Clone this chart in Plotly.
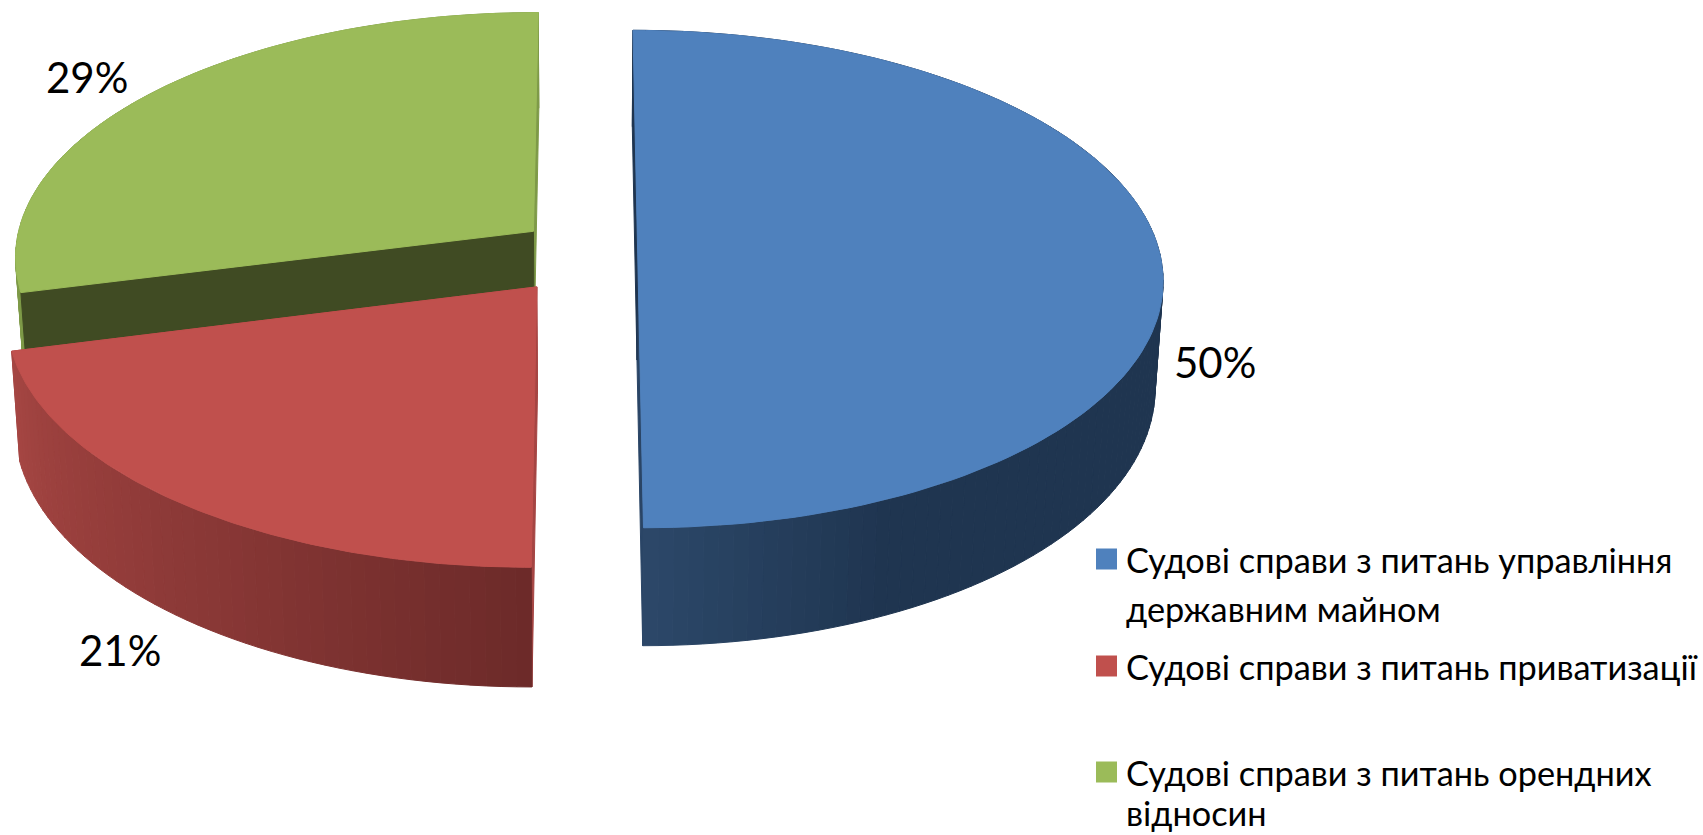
import math
import plotly.graph_objects as go

# ---- data ----
categories = [
    "Судові справи з питань управління державним майном",
    "Судові справи з питань приватизації",
    "Судові справи з питань орендних відносин",
]
legend_lines = [
    ["Судові справи з питань управління", "державним майном"],
    ["Судові справи з питань приватизації"],
    ["Судові справи з питань орендних", "відносин"],
]
shares = [50, 21, 29]
labels = ["50%", "21%", "29%"]
colors = ["#4F81BD", "#C0504D", "#9BBB59"]
offset_x = [0.099, -0.093, -0.1016]
offset_y = [-0.004, -0.136, 0.089]
radius = [1.0, 0.996, 0.995]
inner_wall_a = ["#1F3550", "#A54543", "#404B23"]   # wall at the start angle
inner_wall_b = ["#2A4566", "#A84644", "#7E9A48"]   # wall at the end angle
walls_in_front = [False, False, True]
outer_stops = [
    [(0, "#1F3550"), (155, "#1F3550"), (180, "#2C4869")],
    [(180, "#6C2A29"), (215, "#8A3836"), (256, "#A64643")],
    [(256, "#7E9A48"), (360, "#7E9A48")],
]
label_pos = [(1215, 362), (120, 650), (87, 77)]
legend_x, legend_text_x = 1096, 1125
legend_y = [[559, 608], [666], [772, 812]]
legend_sq = 21
draw_order = [2, 1, 0]

# ---- camera ----
W, H = 1703, 835
R, k, xv, yV, y0, D, m = 522, 0.1007, 586, -2190, 253, 106, 0.986


def proj(X, Y, bottom=False):
    s = 1 / (1 + k * Y)
    x = xv + X * R * s
    y = yV + (y0 - yV) * s
    if bottom:
        x = xv + m * (x - xv)
        y = y + D * s
    return x, y


def hexrgb(c):
    return [int(c[i:i + 2], 16) for i in (1, 3, 5)]


def shade(stops, a):
    for (a0, c0), (a1, c1) in zip(stops, stops[1:]):
        if a <= a1:
            t = (a - a0) / (a1 - a0) if a1 > a0 else 0
            p, q = hexrgb(c0), hexrgb(c1)
            return "rgb(%d,%d,%d)" % tuple(round(u + (v - u) * t) for u, v in zip(p, q))
    return stops[-1][1]


def poly(fig, pts, color):
    fig.add_trace(go.Scatter(
        x=[p[0] for p in pts] + [pts[0][0]],
        y=[p[1] for p in pts] + [pts[0][1]],
        mode="lines", fill="toself", fillcolor=color,
        line=dict(color=color, width=1), hoverinfo="skip", showlegend=False,
    ))


total = sum(shares)
starts = [sum(shares[:i]) / total * 360 for i in range(len(shares))]
fig = go.Figure()

for i in draw_order:
    a0, a1 = starts[i], starts[i] + shares[i] / total * 360
    ox, oy = offset_x[i], offset_y[i]

    def rim(a, bottom=False):
        r = math.radians(a)
        return proj(ox + radius[i] * math.sin(r), oy + radius[i] * math.cos(r), bottom)

    apex_t, apex_b = proj(ox, oy), proj(ox, oy, True)

    def walls():
        poly(fig, [apex_t, rim(a1), rim(a1, True), apex_b], inner_wall_b[i])
        poly(fig, [apex_t, rim(a0), rim(a0, True), apex_b], inner_wall_a[i])

    if not walls_in_front[i]:
        walls()
    # outer curved wall, drawn as thin strips to carry the shading
    n = max(int((a1 - a0) / 1.5), 2)
    for j in range(n):
        b0 = a0 + (a1 - a0) * j / n
        b1 = a0 + (a1 - a0) * (j + 1) / n
        poly(fig, [rim(b0), rim(b1), rim(b1, True), rim(b0, True)],
             shade(outer_stops[i], (b0 + b1) / 2))
    if walls_in_front[i]:
        walls()
    # top face
    angs = [a0 + (a1 - a0) * j / 120 for j in range(121)]
    poly(fig, [apex_t] + [rim(a) for a in angs], colors[i])

annotations = []
for text, (x, y) in zip(labels, label_pos):
    annotations.append(dict(x=x, y=y, text=text, showarrow=False, xanchor="center", yanchor="middle",
                            font=dict(family="Lato, Carlito, Noto Sans", size=42, color="#000000")))
shapes = []
for i, lines in enumerate(legend_lines):
    y = legend_y[i][0]
    shapes.append(dict(type="rect", xref="x", yref="y", x0=legend_x, x1=legend_x + legend_sq,
                       y0=y - legend_sq / 2, y1=y + legend_sq / 2, fillcolor=colors[i], line_width=0))
    for line, ly in zip(lines, legend_y[i]):
        annotations.append(dict(x=legend_text_x, y=ly, text=line, showarrow=False, xanchor="left", yanchor="middle",
                                borderpad=0,
                                font=dict(family="Lato, Carlito, Noto Sans", size=34.3, color="#000000")))

fig.update_layout(
    width=W, height=H, margin=dict(l=0, r=0, t=0, b=0),
    paper_bgcolor="white", plot_bgcolor="white", showlegend=False,
    xaxis=dict(range=[0, W], visible=False, fixedrange=True),
    yaxis=dict(range=[H, 0], visible=False, fixedrange=True),
    annotations=annotations, shapes=shapes,
)
fig.write_html("out.html", config={"displayModeBar": False},
               post_script="document.body.style.margin='0';document.body.style.overflow='hidden';")
